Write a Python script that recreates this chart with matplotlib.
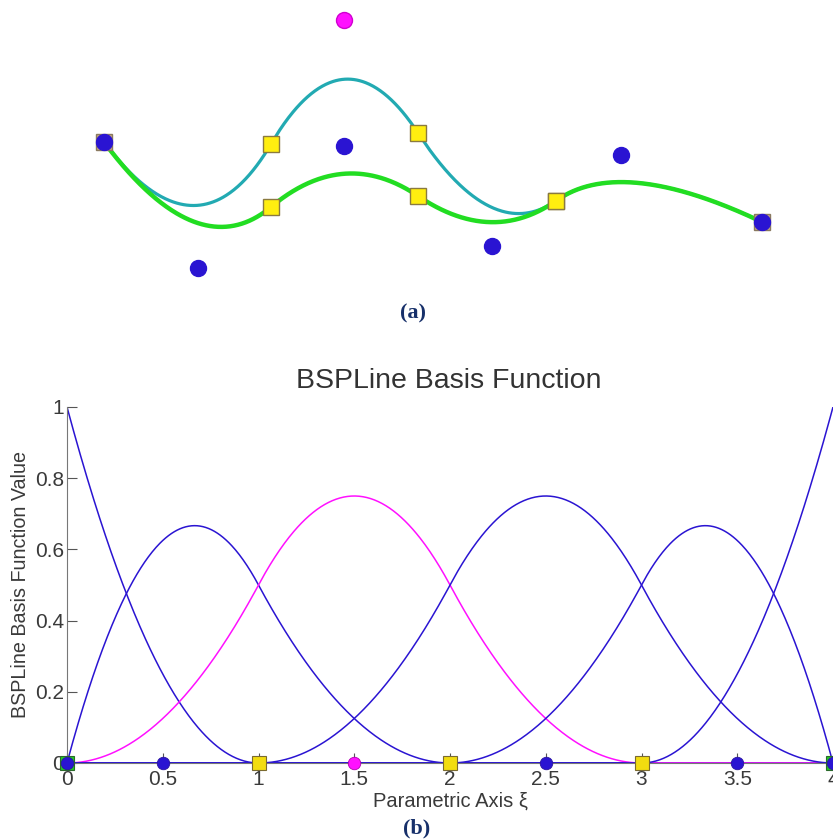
import numpy as np
from matplotlib import pyplot as plt

# quadratic B-spline, open uniform knot vector
degree = 2
knots = [0, 0, 0, 1, 2, 3, 4, 4, 4]
knot_ticks = [0, 1, 2, 3, 4]
ctrl_xi = [0, 0.5, 1.5, 2.5, 3.5, 4]

# control polygon of panel (a), in picture units (y grows downwards)
ctrl_x = [104, 198, 344, 492, 621, 762]
ctrl_y = [142, 268, 146, 246, 155, 222]
moved_index = 2
moved_y = 20

blue = '#2a14d2'
magenta = '#ff10ff'
yellow = '#ffee10'
green = '#22cc22'
navy = '#17306a'


def basis(i, p, t, u):
    """Cox-de Boor recursion, last span closed on the right."""
    if p == 0:
        last = t[i + 1] == t[-1] and t[i] < t[i + 1]
        if last:
            return ((u >= t[i]) & (u <= t[i + 1])).astype(float)
        return ((u >= t[i]) & (u < t[i + 1])).astype(float)
    out = np.zeros_like(u)
    if t[i + p] > t[i]:
        out += (u - t[i]) / (t[i + p] - t[i]) * basis(i, p - 1, t, u)
    if t[i + p + 1] > t[i + 1]:
        out += (t[i + p + 1] - u) / (t[i + p + 1] - t[i + 1]) * basis(i + 1, p - 1, t, u)
    return out


def curve_at(u, coords):
    u = np.atleast_1d(np.asarray(u, float))
    return sum(basis(i, degree, knots, u) * coords[i] for i in range(len(coords)))


xi = np.linspace(knots[0], knots[-1], 801)
n_basis = len(knots) - degree - 1
N = [basis(i, degree, knots, xi) for i in range(n_basis)]

fig = plt.figure(figsize=(8.33, 8.39), dpi=100)

# ---- panel (a): curve and control points
ax_a = fig.add_axes([0, 1 - 300 / 839, 1, 300 / 839])
ax_a.set_xlim(0, 833)
ax_a.set_ylim(300, 0)
ax_a.axis('off')

moved = list(ctrl_y)
moved[moved_index] = moved_y
ax_a.plot(curve_at(xi, ctrl_x), curve_at(xi, moved), color='#22aab2', lw=2.3, solid_capstyle='round')
ax_a.plot(curve_at(xi, ctrl_x), curve_at(xi, ctrl_y), color='#22dd22', lw=3.2, solid_capstyle='round')

# curve points at the knots
kx = curve_at(knot_ticks, ctrl_x)
ky = curve_at(knot_ticks, ctrl_y)
kym = curve_at(knot_ticks, moved)
ax_a.plot(kx[1:-1], kym[1:-1], 's', ms=12, mfc=yellow, mec='#8a7a40', mew=1)
ax_a.plot(kx[1:-1], ky[1:-1], 's', ms=12, mfc=yellow, mec='#8a7a40', mew=1)
ax_a.plot([kx[0], kx[-1]], [ky[0], ky[-1]], 's', ms=12, mfc='#c9a880', mec='#8a7a60', mew=1)

ax_a.plot(ctrl_x, ctrl_y, 'o', ms=11.5, mfc=blue, mec=blue, ls='none')
ax_a.plot(ctrl_x[moved_index], moved_y, 'o', ms=11.5, mfc=magenta, mec='#d000d0')

fig.text(413 / 833, 1 - 313 / 839, '(a)', ha='center', va='center',
         family='Liberation Serif', weight='bold', size=16, color=navy)

# ---- panel (b): basis functions
ax = fig.add_axes([67 / 833, 1 - 763 / 839, 766 / 833, 356 / 839])
for i in range(n_basis):
    ax.plot(xi, N[i], color=magenta if i == moved_index else blue, lw=1.1)

ax.plot(knot_ticks[1:-1], [0] * 3, 's', ms=10, mfc='#f2dc10', mec='#7a6a30', mew=0.8, clip_on=False, zorder=4)
ax.plot([knot_ticks[0], knot_ticks[-1]], [0, 0], 's', ms=10, mfc=green, mec='#2a6a2a', mew=0.8, clip_on=False, zorder=4)
for j, x in enumerate(ctrl_xi):
    c = magenta if j == moved_index else blue
    ax.plot(x, 0, 'o', ms=9, mfc=c, mec='#2a14a0' if c == blue else '#b000b0', mew=0.6, clip_on=False, zorder=5)

ax.set_xlim(0, 4)
ax.set_ylim(0, 1)
ax.set_xticks(np.arange(0, 4.01, 0.5))
ax.set_xticklabels(['0', '0.5', '1', '1.5', '2', '2.5', '3', '3.5', '4'])
ax.set_yticks(np.arange(0, 1.01, 0.2))
ax.set_yticklabels(['0', '0.2', '0.4', '0.6', '0.8', '1'])
ax.tick_params(direction='in', length=7, width=0.8, color='#555555',
               labelcolor='#3a3a3a', labelsize=15, pad=2)
ax.tick_params(axis='x', pad=5)
for s in ['top', 'right']:
    ax.spines[s].set_visible(False)
for s in ['left', 'bottom']:
    ax.spines[s].set_color('#777777')
    ax.spines[s].set_linewidth(0.8)
for lab in ax.get_xticklabels() + ax.get_yticklabels():
    lab.set_family('Liberation Sans')

ax.set_xlabel('Parametric Axis ξ', family='Liberation Sans', size=14.5, color='#3a3a3a', labelpad=2)
ax.set_ylabel('BSPLine Basis Function Value', family='Liberation Sans', size=14.2, color='#3a3a3a', labelpad=4)
fig.text(449 / 833, 1 - 381 / 839, 'BSPLine Basis Function', ha='center', va='center',
         family='Liberation Sans', size=20.5, color='#333333')
fig.text(417 / 833, 1 - 828 / 839, '(b)', ha='center', va='center',
         family='Liberation Serif', weight='bold', size=16, color=navy)

fig.savefig('out.png', dpi=100)
